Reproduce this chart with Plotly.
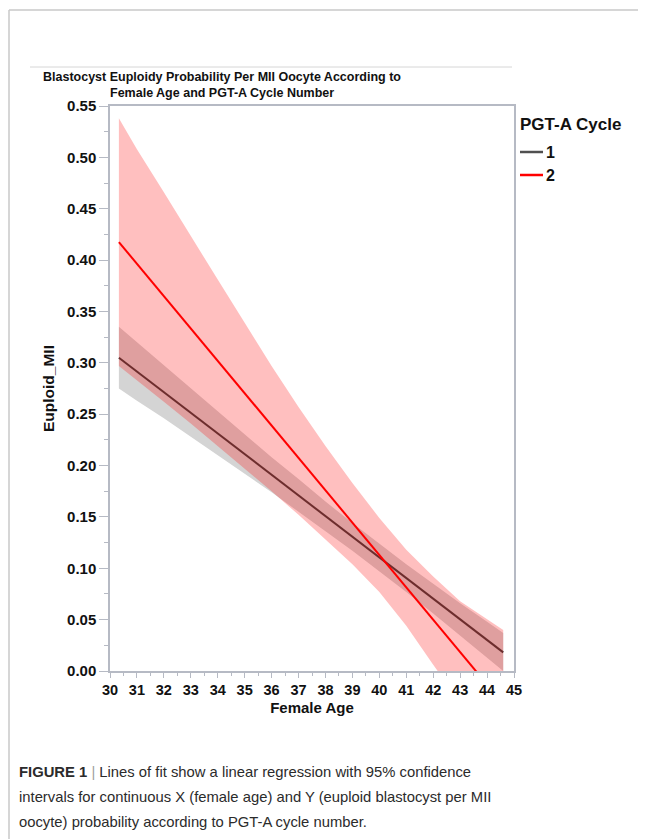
import plotly.graph_objects as go

# ---- data ----
age = [30.33, 31, 32, 33, 34, 35, 36, 37, 38, 39, 40, 41, 42, 43, 44, 44.6]

c1_fit = [0.305, 0.2915, 0.2714, 0.2513, 0.2312, 0.2111, 0.1910, 0.1709, 0.1508,
          0.1307, 0.1106, 0.0905, 0.0704, 0.0503, 0.0302, 0.0181]
c1_upper = [0.335, 0.320, 0.297, 0.275, 0.253, 0.230, 0.208, 0.187, 0.165,
            0.144, 0.124, 0.104, 0.085, 0.066, 0.048, 0.037]
c1_lower = [0.275, 0.263, 0.246, 0.228, 0.210, 0.192, 0.174, 0.155, 0.136,
            0.117, 0.097, 0.077, 0.056, 0.035, 0.013, 0.000]

c2_fit = [0.4175, 0.3964, 0.3649, 0.3334, 0.3019, 0.2704, 0.2389, 0.2074, 0.1759,
          0.1444, 0.1129, 0.0814, 0.0499, 0.0184, -0.0131, -0.0320]
c2_upper = [0.538, 0.508, 0.466, 0.423, 0.381, 0.339, 0.297, 0.257, 0.219,
            0.183, 0.149, 0.118, 0.092, 0.068, 0.050, 0.040]
c2_lower = [0.297, 0.283, 0.262, 0.241, 0.219, 0.197, 0.175, 0.152, 0.128,
            0.104, 0.077, 0.044, 0.006, -0.030, -0.069, -0.105]

cycles = ["1", "2"]
cycle_colors = ["#505050", "#ff0000"]

x_ticks = list(range(30, 46))
y_ticks = [0.00, 0.05, 0.10, 0.15, 0.20, 0.25, 0.30, 0.35, 0.40, 0.45, 0.50, 0.55]
y_tick_labels = [f"{v:.2f}" for v in y_ticks]

title_lines = ["Blastocyst Euploidy Probability Per MII Oocyte According to",
               "Female Age and PGT-A Cycle Number"]
caption_lines = [
    "<b>FIGURE 1</b> <span style='color:#a0a0a0'>|</span> Lines of fit show a linear regression with 95% confidence",
    "intervals for continuous X (female age) and Y (euploid blastocyst per MII",
    "oocyte) probability according to PGT-A cycle number.",
]

SANS = "Liberation Sans, Arial, Helvetica, sans-serif"

# the page is shown with an 8px body margin, so the figure is 8px smaller
OFF = 8
W, H = 646 - OFF, 839 - OFF
# plot area in reference-page pixels
L, R, T, B = 110, 514, 106, 671


def px(x):
    return (x - L) / (R - L)


def py(y):
    return (B - y) / (B - T)


fig = go.Figure()

# cycle 1 confidence band (gray)
fig.add_trace(go.Scatter(
    x=age + age[::-1], y=c1_upper + c1_lower[::-1],
    fill="toself", fillcolor="#d4d4d4", line=dict(width=0),
    mode="lines", hoverinfo="skip", showlegend=False))
# cycle 1 fit line
fig.add_trace(go.Scatter(
    x=age, y=c1_fit, mode="lines", name=cycles[0], showlegend=False,
    line=dict(color="#3c3c3c", width=2)))
# cycle 2 confidence band (translucent red)
fig.add_trace(go.Scatter(
    x=age + age[::-1], y=c2_upper + c2_lower[::-1],
    fill="toself", fillcolor="rgba(255,0,0,0.25)", line=dict(width=0),
    mode="lines", hoverinfo="skip", showlegend=False))
# cycle 2 fit line
fig.add_trace(go.Scatter(
    x=age, y=c2_fit, mode="lines", name=cycles[1], showlegend=False,
    line=dict(color="#ff0000", width=2)))

axis_col = "#b6bac4"

fig.update_layout(
    width=W, height=H,
    margin=dict(l=L - OFF, r=(646 - R), t=T - OFF, b=(839 - B), pad=0),
    paper_bgcolor="white", plot_bgcolor="white",
    showlegend=False,
    xaxis=dict(
        range=[30, 45], tickmode="array", tickvals=x_ticks,
        ticktext=[str(v) for v in x_ticks],
        ticks="outside", ticklen=5, tickcolor=axis_col, tickwidth=1,
        minor=dict(dtick=0.5, ticks="outside", ticklen=3, tickcolor=axis_col),
        showline=True, linecolor=axis_col, linewidth=1.5, mirror=True,
        showgrid=False, zeroline=False,
        tickfont=dict(family=SANS, size=14.5, color="#111", weight="bold"),
        title=dict(text="Female Age", standoff=5,
                   font=dict(family=SANS, size=15, color="#111", weight="bold")),
    ),
    yaxis=dict(
        range=[0, 0.55], tickmode="array", tickvals=y_ticks, ticktext=y_tick_labels,
        ticks="outside", ticklen=9, tickcolor=axis_col, tickwidth=1,
        minor=dict(dtick=0.025, ticks="outside", ticklen=4, tickcolor=axis_col),
        showline=True, linecolor=axis_col, linewidth=1.5, mirror=True,
        showgrid=False, zeroline=False,
        tickfont=dict(family=SANS, size=15, color="#111", weight="bold"),
        title=dict(text="Euploid_MII", standoff=9,
                   font=dict(family=SANS, size=15.5, color="#111", weight="bold")),
    ),
)

# chart title (two centred lines)
for i, line in enumerate(title_lines):
    fig.add_annotation(
        text=line, xref="paper", yref="paper",
        x=px(222), y=py(77 + 16 * i), xanchor="center", yanchor="middle",
        showarrow=False, font=dict(family=SANS, size=12.5, color="#111", weight="bold"))

# legend (title, line keys and labels)
fig.add_annotation(
    text="PGT-A Cycle", xref="paper", yref="paper",
    x=px(518), y=py(124), xanchor="left", yanchor="middle", showarrow=False,
    font=dict(family=SANS, size=17, color="#111", weight="bold"))
for i, (name, col) in enumerate(zip(cycles, cycle_colors)):
    yy = 152 + 23 * i
    fig.add_shape(type="line", xref="paper", yref="paper",
                  x0=px(520), x1=px(543), y0=py(yy), y1=py(yy),
                  line=dict(color=col, width=2.5))
    fig.add_annotation(
        text=name, xref="paper", yref="paper",
        x=px(544), y=py(yy), xanchor="left", yanchor="middle", showarrow=False,
        font=dict(family=SANS, size=16, color="#111", weight="bold"))

# caption lines
for i, line in enumerate(caption_lines):
    fig.add_annotation(
        text=line, xref="paper", yref="paper",
        x=px(17), y=py(772 + 25 * i), xanchor="left", yanchor="middle",
        showarrow=False, align="left",
        font=dict(family=SANS, size=14.8, color="#2b2b2b"))

# page frame lines
frame = "#c8c8c8"
fig.add_shape(type="line", xref="paper", yref="paper",
              x0=px(9), x1=px(9), y0=py(10), y1=py(850),
              line=dict(color=frame, width=1.5))
fig.add_shape(type="line", xref="paper", yref="paper",
              x0=px(9), x1=px(660), y0=py(10), y1=py(10),
              line=dict(color=frame, width=1.5))
fig.add_shape(type="line", xref="paper", yref="paper",
              x0=px(30), x1=px(512), y0=py(67), y1=py(67),
              line=dict(color="#d6d6d6", width=1))

fig.write_html("out.html")
